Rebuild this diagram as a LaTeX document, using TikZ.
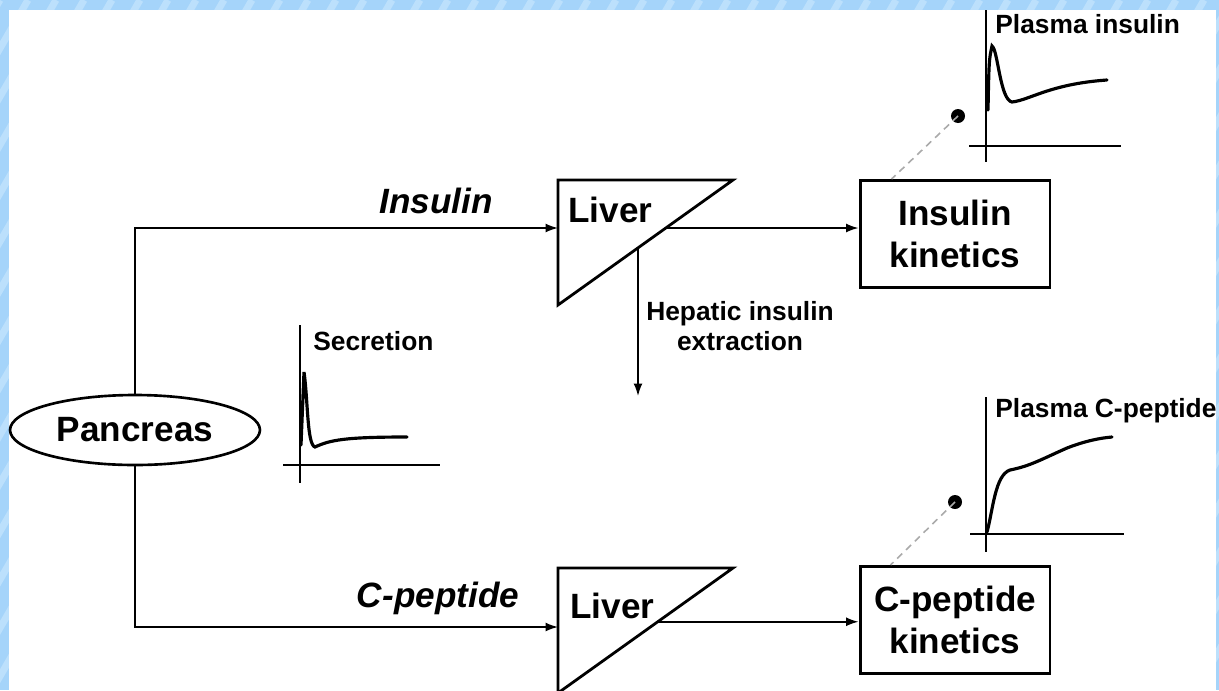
\documentclass[tikz,border=0pt]{standalone}
\usepackage{fontspec}
\setmainfont{Liberation Sans}
\usetikzlibrary{shapes.geometric,arrows.meta,calc}

\definecolor{framebg}{RGB}{165,212,250}
\definecolor{framelite}{RGB}{188,224,252}
\definecolor{dashgray}{RGB}{170,170,170}

\begin{document}
\begin{tikzpicture}[x=0.02cm,y=-0.02cm,
    big/.style={font=\fontsize{20}{23.5}\selectfont\bfseries, inner sep=0pt},
    bigit/.style={font=\fontsize{20}{23.5}\selectfont\bfseries\itshape, inner sep=0pt},
    small/.style={font=\fontsize{15}{17}\selectfont\bfseries, inner sep=0pt},
    organ/.style={draw, line width=1.5pt, ellipse, minimum width=5cm, minimum height=1.4cm, inner sep=0pt},
    kinbox/.style={draw, line width=1.7pt, minimum width=3.8cm, minimum height=2.14cm, align=center, inner sep=0pt},
    flow/.style={line width=0.9pt, -{Latex[length=7pt,width=5pt]}},
    axis/.style={line width=1.2pt},
    curve/.style={line width=1.8pt, line cap=round},
    link/.style={dashgray, line width=0.9pt, dash pattern=on 4pt off 3pt}]

    % Frame
    \useasboundingbox (0,0) rectangle (1219,690);
    \fill[framebg] (0,0) rectangle (1219,690);
    \begin{scope}
        \clip (0,0) rectangle (1219,690);
        \foreach \s in {-400,-372,...,1219}
            \draw[framelite, line width=4pt] (\s,690) -- (\s+400,0);
    \end{scope}
    \fill[white] (9,10) rectangle (1216,700);

    % Pancreas
    \node[organ, big] (pan) at (135,430) {Pancreas};

    % Livers
    \coordinate (l1a) at (558,180);
    \coordinate (l1b) at (733,180);
    \coordinate (l1c) at (558,305);
    \draw[line width=1.6pt, line join=miter] (l1a) -- (l1b) -- (l1c) -- cycle;
    \node[big, anchor=base west] (liv1) at (568,222) {Liver};
    \coordinate (l1in) at (558,228);
    \coordinate (l1out) at ($(l1b)!0.384!(l1c)$);
    \coordinate (l1dn) at ($(l1b)!0.543!(l1c)$);

    \coordinate (l2a) at (558,568);
    \coordinate (l2b) at (733,568);
    \coordinate (l2c) at (558,693);
    \draw[line width=1.6pt, line join=miter] (l2a) -- (l2b) -- (l2c) -- cycle;
    \node[big, anchor=base west] (liv2) at (570,618) {Liver};
    \coordinate (l2in) at (558,627);
    \coordinate (l2out) at ($(l2b)!0.43!(l2c)$);

    % Kinetics boxes
    \node[kinbox, big] (ikin) at (955,234) {Insulin\\kinetics};
    \node[kinbox, big] (ckin) at (955,620) {C-peptide\\kinetics};

    % Flows
    \draw[flow] (pan.north) |- (l1in);
    \draw[flow] (pan.south) |- (l2in);
    \draw[flow] (l1out) -- (l1out -| ikin.west);
    \draw[flow] (l2out) -- (l2out -| ckin.west);
    \coordinate (hepend) at (638,396);
    \draw[flow] (l1dn) -- (hepend);

    % Labels
    \node[bigit, anchor=base] (inslab) at (436,213) {Insulin};
    \node[bigit, anchor=base] (cplab) at (438,607) {C-peptide};
    \node[small, align=center, anchor=north] (heplab) at (740,301) {Hepatic insulin\\extraction};

    % Secretion graph
    \draw[axis] (300,325) -- (300,483);
    \draw[axis] (283,465) -- (440,465);
    \draw[curve] (301,445) -- (304,372) .. controls (308,400) and (307,445) .. (315,447)
        .. controls (330,440) and (345,437) .. (407,437);
    \node[small, anchor=base west] (seclab) at (313,350) {Secretion};

    % Plasma insulin graph
    \draw[axis] (986,10) -- (986,162);
    \draw[axis] (969,146) -- (1121,146);
    \draw[curve] (988,110) .. controls (989,60) .. (992,46)
        .. controls (998,50) and (1000,100) .. (1012,102)
        .. controls (1030,100) and (1050,84) .. (1107,80);
    \node[small, anchor=base west] (pinslab) at (995,33) {Plasma insulin};
    \fill (958,116) circle (7) coordinate (dot1);
    \draw[link] (dot1) -- ($(ikin.north west)+(33,0)$);

    % Plasma C-peptide graph
    \draw[axis] (986,397) -- (986,552);
    \draw[axis] (970,534) -- (1124,534);
    \draw[curve] (987,532) .. controls (993,510) and (995,475) .. (1010,470)
        .. controls (1030,466) and (1040,460) .. (1067,448)
        .. controls (1085,441) and (1100,438) .. (1112,437);
    \node[small, anchor=base west] (pcplab) at (995,417) {Plasma C-peptide};
    \fill (955,502) circle (7) coordinate (dot2);
    \draw[link] (dot2) -- ($(ckin.north west)+(32,0)$);
\end{tikzpicture}
\end{document}
